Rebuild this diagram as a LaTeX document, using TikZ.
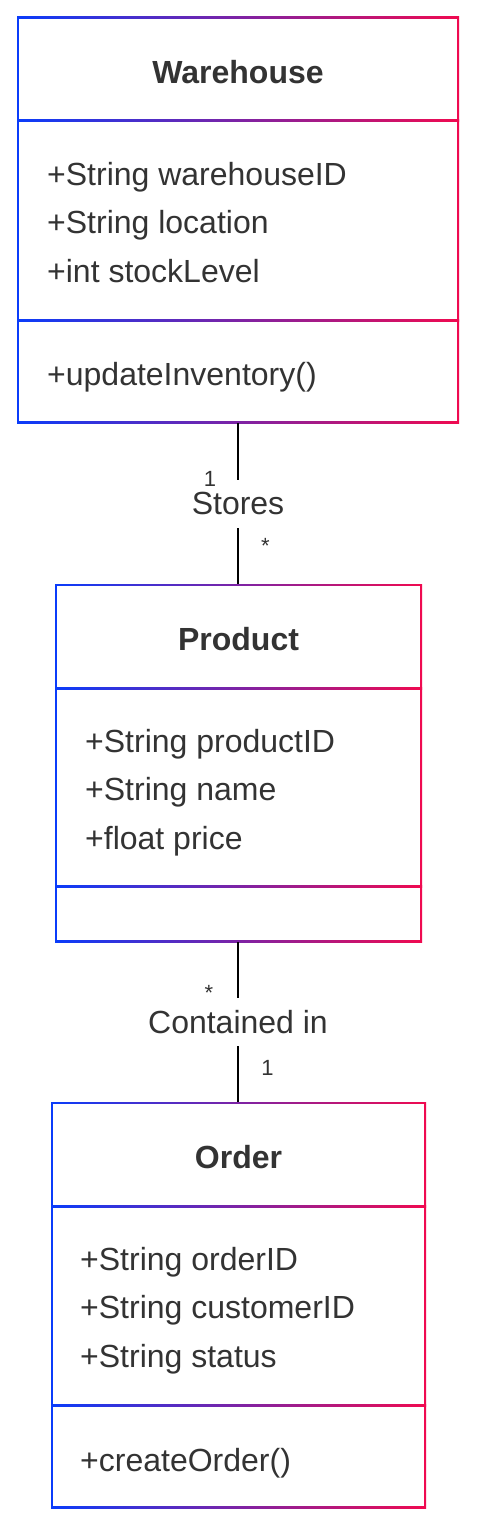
\documentclass[tikz,border=0pt]{standalone}
\usepackage{fontspec}
\setmainfont{Liberation Sans}
\usetikzlibrary{calc}
\definecolor{cblue}{RGB}{10,60,250}
\definecolor{cred}{RGB}{240,10,80}
\definecolor{ctext}{RGB}{51,51,51}
\tikzset{
  umlbox/.style={rectangle, inner sep=0pt, outer sep=0pt, anchor=north west,
    left color=cblue, right color=cred,
    path picture={\fill[white] ([xshift=2bp,yshift=-2bp]path picture bounding box.north west) rectangle ([xshift=-2bp,yshift=2bp]path picture bounding box.south east);}},
  divider/.style={left color=cblue, right color=cred, draw=none},
  titletext/.style={font=\fontsize{32bp}{38bp}\selectfont\bfseries, text=ctext, inner sep=0pt, anchor=base},
  membertext/.style={font=\fontsize{32bp}{38bp}\selectfont, text=ctext, inner sep=0pt, anchor=base west},
  reltext/.style={font=\fontsize{32bp}{38bp}\selectfont, text=ctext, fill=white, inner xsep=2bp, inner ysep=0pt, minimum height=48bp},
  multtext/.style={font=\fontsize{22bp}{26bp}\selectfont, text=ctext, inner sep=0pt},
  conn/.style={draw=black, line width=2bp},
}
\begin{document}
\begin{tikzpicture}[x=1bp,y=-1bp]
\useasboundingbox[fill=white] (0,0) rectangle (480,1537);
% Warehouse
\node[umlbox, minimum width=442bp, minimum height=406bp] (wh) at (17,17) {};
\shade[divider] (17,120) rectangle (459,122);
\shade[divider] (17,319) rectangle (459,321);
\node[titletext] (wht) at (238,83.5) {Warehouse};
\node[membertext] (wha1) at (47,185.5) {+String warehouseID};
\node[membertext] (wha2) at (47,233.5) {+String location};
\node[membertext] (wha3) at (47,282) {+int stockLevel};
\node[membertext] (whm1) at (47,385) {+updateInventory()};
% Product
\node[umlbox, minimum width=367bp, minimum height=358bp] (pr) at (55,584) {};
\shade[divider] (55,687) rectangle (422,689);
\shade[divider] (55,885) rectangle (422,887);
\node[titletext] (prt) at (238.5,650) {Product};
\node[membertext] (pra1) at (85,752.5) {+String productID};
\node[membertext] (pra2) at (85,800.5) {+String name};
\node[membertext] (pra3) at (85,849) {+float price};
% Order
\node[umlbox, minimum width=375bp, minimum height=406bp] (or) at (51,1102) {};
\shade[divider] (51,1205) rectangle (426,1207);
\shade[divider] (51,1404) rectangle (426,1406);
\node[titletext] (ort) at (238.5,1168.5) {Order};
\node[membertext] (ora1) at (80,1270.5) {+String orderID};
\node[membertext] (ora2) at (80,1318.5) {+String customerID};
\node[membertext] (ora3) at (80,1367) {+String status};
\node[membertext] (orm1) at (80,1471) {+createOrder()};
% Relations
\draw[conn] (wh.south -| 238,0) -- (pr.north -| 238,0) node[midway, reltext] (stores) {Stores};
\draw[conn] (pr.south -| 238,0) -- (or.north -| 238,0) node[midway, reltext] (contained) {Contained in};
\node[multtext, anchor=base] (m1) at (210,486) {1};
\node[multtext] (m2) at (265.5,546) {*};
\node[multtext] (m3) at (209,993) {*};
\node[multtext, anchor=base] (m4) at (267.5,1075) {1};
\end{tikzpicture}
\end{document}
